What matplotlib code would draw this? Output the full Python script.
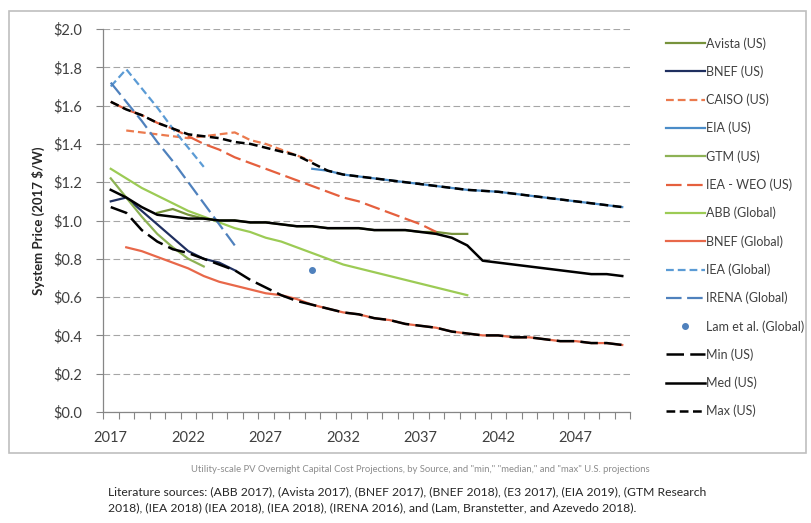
import matplotlib.pyplot as plt
from matplotlib.patches import Rectangle
import numpy as np

plt.rcParams['font.family'] = ['Lato', 'DejaVu Sans']

# values (2017 $/W)
avista_years = list(range(2020, 2041))
avista = [1.04, 1.06, 1.03, 1.01, 1.00, 1.00, 0.99, 0.99, 0.98, 0.97, 0.97,
          0.96, 0.96, 0.96, 0.95, 0.95, 0.95, 0.94, 0.94, 0.93, 0.93]

bnef_us_years = list(range(2017, 2026))
bnef_us = [1.10, 1.12, 1.05, 0.98, 0.91, 0.84, 0.80, 0.78, 0.74]

caiso_years = list(range(2018, 2031))
caiso = [1.47, 1.46, 1.45, 1.44, 1.43, 1.44, 1.45, 1.46, 1.42, 1.40, 1.37, 1.34, 1.31]

eia_years = list(range(2030, 2051))
eia = [1.27, 1.26, 1.24, 1.23, 1.22, 1.21, 1.20, 1.19, 1.18, 1.17, 1.16,
       1.155, 1.15, 1.14, 1.13, 1.12, 1.11, 1.10, 1.09, 1.08, 1.07]

gtm_years = list(range(2017, 2024))
gtm = [1.22, 1.12, 1.02, 0.93, 0.86, 0.80, 0.76]

iea_weo_years = list(range(2017, 2039))
iea_weo = [1.62, 1.58, 1.55, 1.51, 1.48, 1.44, 1.40, 1.37, 1.33, 1.30, 1.27,
           1.24, 1.21, 1.18, 1.15, 1.12, 1.10, 1.07, 1.04, 1.01, 0.98, 0.94]

abb_years = list(range(2017, 2041))
abb = [1.27, 1.22, 1.17, 1.13, 1.09, 1.05, 1.02, 0.99, 0.96, 0.94, 0.91,
       0.89, 0.86, 0.83, 0.80, 0.77, 0.75, 0.73, 0.71, 0.69, 0.67, 0.65,
       0.63, 0.61]

bnef_gl_years = list(range(2018, 2051))
bnef_gl = [0.86, 0.84, 0.81, 0.78, 0.75, 0.71, 0.68, 0.66, 0.64, 0.62, 0.61,
           0.59, 0.56, 0.54, 0.52, 0.51, 0.49, 0.48, 0.46, 0.45, 0.44, 0.42,
           0.41, 0.40, 0.40, 0.39, 0.39, 0.38, 0.37, 0.37, 0.36, 0.36, 0.35]

iea_gl_years = list(range(2017, 2024))
iea_gl = [1.70, 1.79, 1.69, 1.59, 1.48, 1.38, 1.28]

irena_years = list(range(2017, 2026))
irena = [1.72, 1.62, 1.52, 1.41, 1.31, 1.20, 1.09, 0.98, 0.87]

lam_years = [2030]
lam = [0.74]

min_years = list(range(2017, 2051))
min_us = [1.07, 1.04, 0.95, 0.89, 0.85, 0.83, 0.80, 0.77, 0.74, 0.69, 0.65,
          0.61, 0.58, 0.56, 0.54, 0.52, 0.51, 0.49, 0.48, 0.46, 0.45, 0.44,
          0.42, 0.41, 0.40, 0.40, 0.39, 0.39, 0.38, 0.37, 0.37, 0.36, 0.36, 0.35]

med_years = list(range(2017, 2051))
med_us = [1.16, 1.12, 1.07, 1.03, 1.02, 1.01, 1.01, 1.00, 1.00, 0.99, 0.99,
          0.98, 0.97, 0.97, 0.96, 0.96, 0.96, 0.95, 0.95, 0.95, 0.94, 0.93,
          0.91, 0.87, 0.79, 0.78, 0.77, 0.76, 0.75, 0.74, 0.73, 0.72, 0.72, 0.71]

max_years = list(range(2017, 2051))
max_us = [1.62, 1.58, 1.55, 1.51, 1.48, 1.45, 1.44, 1.43, 1.41, 1.40, 1.38,
          1.36, 1.34, 1.30, 1.26, 1.24, 1.23, 1.22, 1.21, 1.20, 1.19, 1.18,
          1.17, 1.16, 1.155, 1.15, 1.14, 1.13, 1.12, 1.11, 1.10, 1.09, 1.08, 1.07]

short_dash = (0, (3.5, 1.8))
long_dash = (0, (7, 2.5))

fig = plt.figure(figsize=(8.12, 5.23), dpi=100)
ax = fig.add_axes([103/812, 1 - 412/523, 527/812, 383/523])

ax.plot(avista_years, avista, color='#77933C', lw=1.6, label='Avista (US)')
ax.plot(bnef_us_years, bnef_us, color='#1F2F5F', lw=1.6, label='BNEF (US)')
ax.plot(caiso_years, caiso, color='#EB7A4E', lw=1.6, ls=short_dash, label='CAISO (US)')
ax.plot(eia_years, eia, color='#4A8CC8', lw=1.6, label='EIA (US)')
ax.plot(gtm_years, gtm, color='#8DB255', lw=1.6, label='GTM (US)')
ax.plot(iea_weo_years, iea_weo, color='#E5603E', lw=1.6, ls=long_dash, label='IEA - WEO (US)')
ax.plot(abb_years, abb, color='#9CCB55', lw=1.6, label='ABB (Global)')
ax.plot(bnef_gl_years, bnef_gl, color='#E8684A', lw=1.6, label='BNEF (Global)')
ax.plot(iea_gl_years, iea_gl, color='#5B9BD5', lw=1.6, ls=short_dash, label='IEA (Global)')
ax.plot(irena_years, irena, color='#4F81BD', lw=1.6, ls=long_dash, label='IRENA (Global)')
ax.plot(lam_years, lam, color='#4F81BD', ls='none', marker='o', ms=4, label='Lam et al. (Global)')
ax.plot(min_years, min_us, color='black', lw=1.8, ls=long_dash, label='Min (US)')
ax.plot(med_years, med_us, color='black', lw=1.8, label='Med (US)')
ax.plot(max_years, max_us, color='black', lw=1.8, ls=short_dash, label='Max (US)')

ax.set_xlim(2016.5, 2050.5)
ax.set_ylim(0, 2.0)
ax.set_yticks(np.arange(0, 2.01, 0.2))
ax.set_yticklabels(['${:.1f}'.format(v) for v in np.arange(0, 2.01, 0.2)])
ax.set_xticks(range(2017, 2050, 5))
ax.set_xticks(np.arange(2016.5, 2051, 1), minor=True)
ax.tick_params(axis='x', which='major', length=0, pad=14, labelsize=10.5, labelcolor='#404040')
ax.tick_params(axis='x', which='minor', length=5, width=0.8, color='#868686', direction='out')
ax.tick_params(axis='y', length=5, width=0.8, color='#868686', labelsize=10.5,
               labelcolor='#404040', pad=10)
ax.grid(axis='y', color='#A6A6A6', lw=0.8, ls=(0, (6, 3)))
ax.set_axisbelow(True)
for s in ['top', 'right']:
    ax.spines[s].set_visible(False)
for s in ['left', 'bottom']:
    ax.spines[s].set_color('#868686')
    ax.spines[s].set_linewidth(0.9)
ax.set_ylabel('System Price (2017 $/W)', fontsize=9.5, fontweight='bold', color='#262626', labelpad=6)

handles, labels = ax.get_legend_handles_labels()
fig.legend(handles, labels, loc='upper left', bbox_to_anchor=(666/812, 1 - 37/523),
           frameon=False, fontsize=9, labelspacing=1.26, handlelength=3.1,
           handletextpad=0.12, borderpad=0, borderaxespad=0, labelcolor='#404040')

fig.patches.append(Rectangle((9/812, 1 - 453/523), 797/812, 442/523,
                             transform=fig.transFigure, fill=False,
                             edgecolor='#BFBFBF', lw=1.2))

fig.text(420/812, 1 - 470/523,
         'Utility-scale PV Overnight Capital Cost Projections, by Source, and "min," "median," and "max" U.S. projections',
         ha='center', va='center', fontsize=6.8, color='#8C8C8C')
fig.text(108/812, 1 - 492/523,
         'Literature sources: (ABB 2017), (Avista 2017), (BNEF 2017), (BNEF 2018), (E3 2017), (EIA 2019), (GTM Research',
         ha='left', va='center', fontsize=8.7, color='#262626')
fig.text(108/812, 1 - 508/523,
         '2018), (IEA 2018) (IEA 2018), (IEA 2018), (IRENA 2016), and (Lam, Branstetter, and Azevedo 2018).',
         ha='left', va='center', fontsize=8.7, color='#262626')

fig.savefig('out.png', dpi=100)
